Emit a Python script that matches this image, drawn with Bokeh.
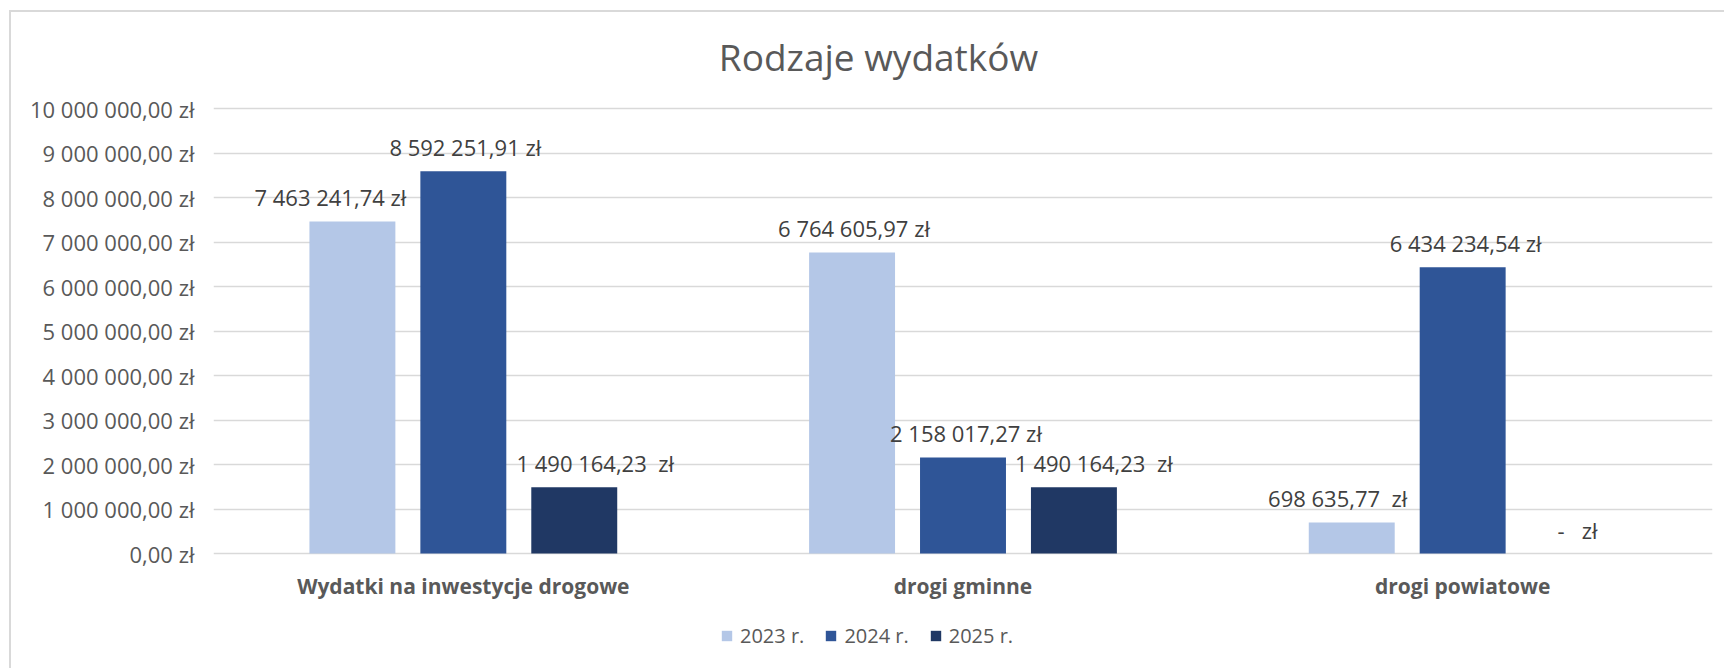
from bokeh.plotting import figure
from bokeh.models import (ColumnDataSource, FactorRange, Range1d, FixedTicker, Legend,
                          LegendItem, Label)
from bokeh.transform import dodge
from bokeh.core.properties import value
from bokeh.embed import file_html
from bokeh.resources import INLINE

NB = "\u00a0"
# ---------------- data ----------------
categories = ["Wydatki na inwestycje drogowe", "drogi gminne", "drogi powiatowe"]
series_names = ["2023 r.", "2024 r.", "2025 r."]
v2023 = [7463241.74, 6764605.97, 698635.77]
v2024 = [8592251.91, 2158017.27, 6434234.54]
v2025 = [1490164.23, 1490164.23, 0.0]
labels2023 = ["7 463 241,74 zł", "6 764 605,97 zł", "698 635,77" + NB + NB + "zł"]
labels2024 = ["8 592 251,91 zł", "2 158 017,27 zł", "6 434 234,54 zł"]
labels2025 = ["1 490 164,23" + NB + NB + "zł", "1 490 164,23" + NB + NB + "zł",
              "-" + NB * 3 + "zł"]
y_ticks = [0, 1000000, 2000000, 3000000, 4000000, 5000000, 6000000, 7000000, 8000000, 9000000, 10000000]
y_tick_labels = ["0,00 zł", "1 000 000,00 zł", "2 000 000,00 zł", "3 000 000,00 zł",
                 "4 000 000,00 zł", "5 000 000,00 zł", "6 000 000,00 zł", "7 000 000,00 zł",
                 "8 000 000,00 zł", "9 000 000,00 zł", "10 000 000,00 zł"]
title_text = "Rodzaje wydatków"

# ---------------- style / layout ----------------
FONT = "Open Sans"
colors = ["#B4C7E7", "#2F5597", "#203864"]
label_dx = [[-22, 2, -14], [2, 3, 3], [21, 20, 4]]   # manual label nudges (px)
dodges = [-0.222, 0.0, 0.222]
bar_w = 0.172

W, H = 1724, 668
LEFT, RIGHT = 213, 12
PLOT_TOP, PLOT_H = 108, 445            # 10 M gridline at y=108 px, zero line 445 px lower
y_max_tick = 10000000
px_per_unit = PLOT_H / y_max_tick
y_hi = y_max_tick + PLOT_TOP / px_per_unit            # room above for the title
y_lo = -(H - PLOT_TOP - PLOT_H) / px_per_unit          # room below for labels and legend

p = figure(x_range=FactorRange(factors=categories, range_padding=0),
           y_range=Range1d(y_lo, y_hi),
           width=W, height=H, output_backend="svg", toolbar_location=None,
           min_border_left=LEFT, min_border_right=RIGHT, min_border_top=0, min_border_bottom=0)
p.outline_line_color = None
p.background_fill_alpha = 0
p.border_fill_alpha = 0
p.styles = {"box-shadow": "inset 9px 10px 0 0 white, inset 11px 12px 0 0 #D9D9D9",
            "background-color": "white"}

p.xgrid.grid_line_color = None
p.ygrid.grid_line_color = "#D9D9D9"
p.ygrid.grid_line_width = 1.5

p.yaxis.ticker = FixedTicker(ticks=y_ticks)
p.yaxis.major_label_overrides = {t: l for t, l in zip(y_ticks, y_tick_labels)}
for ax in (p.xaxis, p.yaxis):
    ax.axis_line_color = None
    ax.major_tick_line_color = None
    ax.minor_tick_line_color = None
p.yaxis.major_label_text_font = FONT
p.yaxis.major_label_text_font_size = "22px"
p.yaxis.major_label_text_color = "#595959"
p.yaxis.major_label_standoff = 13
p.xaxis.fixed_location = 0
p.xaxis.major_label_text_font = FONT
p.xaxis.major_label_text_font_size = "21px"
p.xaxis.major_label_text_font_style = "bold"
p.xaxis.major_label_text_color = "#595959"
p.xaxis.major_label_standoff = 12

values = [v2023, v2024, v2025]
labels = [labels2023, labels2024, labels2025]
items = []
for i, (vals, labs) in enumerate(zip(values, labels)):
    src = ColumnDataSource(dict(cat=categories, val=vals, lab=labs, dx=label_dx[i]))
    r = p.vbar(x=dodge("cat", dodges[i], range=p.x_range), top="val", width=bar_w,
               source=src, fill_color=colors[i], line_color=None)
    p.text(x=dodge("cat", dodges[i], range=p.x_range), y="val", text="lab", source=src,
           x_offset="dx", y_offset=-24, text_align="center", text_baseline="middle",
           text_font=value(FONT), text_font_size="22px", text_color="#404040")
    items.append(LegendItem(label=series_names[i], renderers=[r]))

legend = Legend(items=items, orientation="horizontal", location=(507, 19),
                glyph_width=13, glyph_height=13, label_standoff=7, spacing=20,
                padding=0, margin=0, border_line_color=None, background_fill_alpha=0,
                label_text_font=FONT, label_text_font_size="20px", label_text_color="#595959",
                label_height=20)
p.add_layout(legend)

p.add_layout(Label(x=665, y=H - 56, x_units="screen", y_units="screen", text=title_text,
                   text_align="center", text_baseline="alphabetic", text_font=FONT,
                   text_font_size="37px", text_color="#595959"))

open("out.html", "w").write(file_html(p, INLINE))
